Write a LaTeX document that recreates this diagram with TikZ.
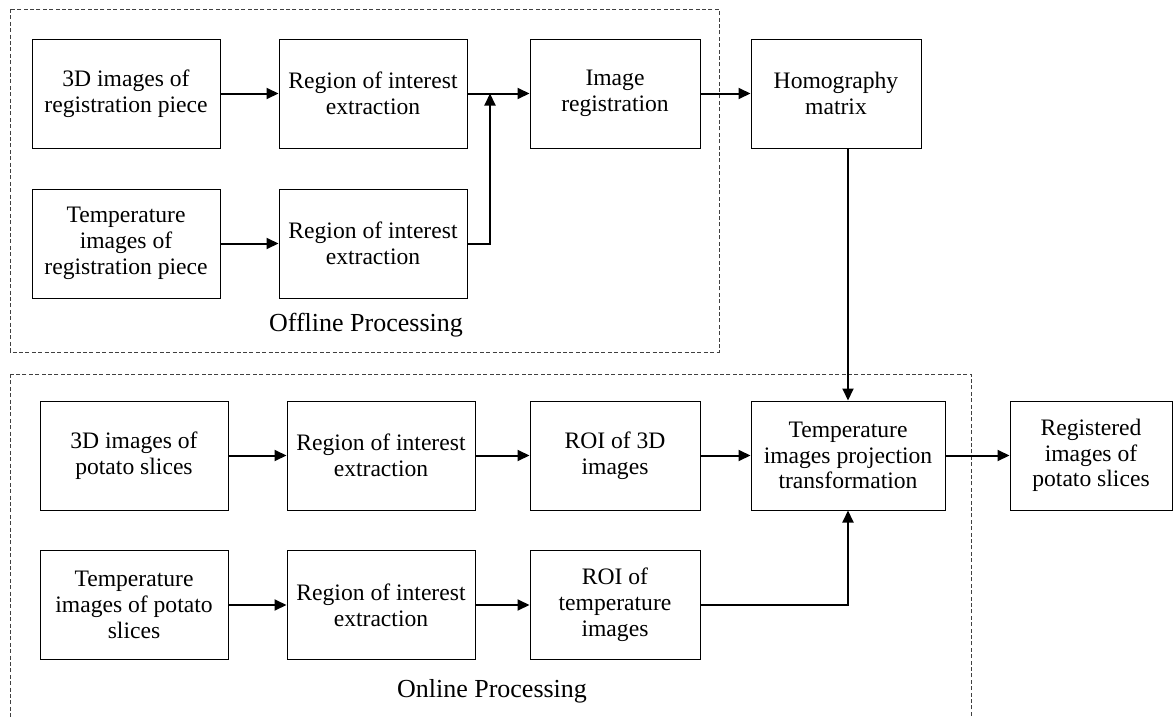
\documentclass[tikz,border=0pt]{standalone}
\usepackage{fontspec}
\setmainfont{Liberation Serif}
\usetikzlibrary{arrows.meta}

\tikzset{
  block/.style={draw, line width=0.5pt, align=center, minimum height=54.5pt,
    inner sep=2pt, font=\fontsize{11.8}{12.9}\selectfont},
  flow/.style={line width=1pt, -{Triangle[length=6pt,width=5.5pt]}},
  group/.style={draw=black!75, line width=0.5pt, dash pattern=on 2pt off 1.2pt},
  grouplbl/.style={font=\fontsize{13}{14}\selectfont},
}

\begin{document}
\begin{tikzpicture}[x=0.5pt, y=-0.5pt]
  \useasboundingbox (0,0) rectangle (1175,718);

  % dashed groups
  \draw[group] (10,9) rectangle (719,352);
  \draw[group] (10,374) rectangle (971,730);
  \node[grouplbl] (offlbl) at (366,325) {Offline Processing};
  \node[grouplbl] (onlbl) at (492,691) {Online Processing};

  % offline part
  \node[block, minimum width=94pt] (regA) at (126,93.5) {3D images of\\registration piece};
  \node[block, minimum width=94pt] (roiA) at (373,93.5) {Region of interest\\extraction};
  \node[block, minimum width=85pt] (imreg) at (615,93.5) {Image\\registration};
  \node[block, minimum width=85pt] (homo) at (836,93.5) {Homography\\matrix};
  \node[block, minimum width=94pt] (regB) at (126,243.5) {Temperature\\images of\\registration piece};
  \node[block, minimum width=94pt] (roiB) at (373,243.5) {Region of interest\\extraction};
  \coordinate (meet) at (490,93.5);

  % online part
  \node[block, minimum width=94pt] (potA) at (134,455.5) {3D images of\\potato slices};
  \node[block, minimum width=94pt] (roiC) at (381,455.5) {Region of interest\\extraction};
  \node[block, minimum width=85pt] (roi3d) at (615,455.5) {ROI of 3D\\images};
  \node[block, minimum width=97pt] (proj) at (848,455.5) {Temperature\\images projection\\transformation};
  \node[block, minimum width=81pt] (result) at (1091,455.5) {Registered\\images of\\potato slices};
  \node[block, minimum width=94pt] (potB) at (134,605) {Temperature\\images of potato\\slices};
  \node[block, minimum width=94pt] (roiD) at (381,605) {Region of interest\\extraction};
  \node[block, minimum width=85pt] (roiT) at (615,605) {ROI of\\temperature\\images};

  % connectors
  \draw[flow] (regA) -- (roiA);
  \draw[flow] (regB) -- (roiB);
  \draw[flow] (roiA) -- (imreg);
  \draw[flow] (roiB.east) -| (meet);
  \draw[flow] (imreg) -- (homo);
  \draw[flow] (homo.south -| proj.north) -- (proj.north);
  \draw[flow] (potA) -- (roiC);
  \draw[flow] (potB) -- (roiD);
  \draw[flow] (roiC) -- (roi3d);
  \draw[flow] (roiD) -- (roiT);
  \draw[flow] (roi3d) -- (proj);
  \draw[flow] (roiT.east) -| (proj.south);
  \draw[flow] (proj) -- (result);
\end{tikzpicture}
\end{document}
